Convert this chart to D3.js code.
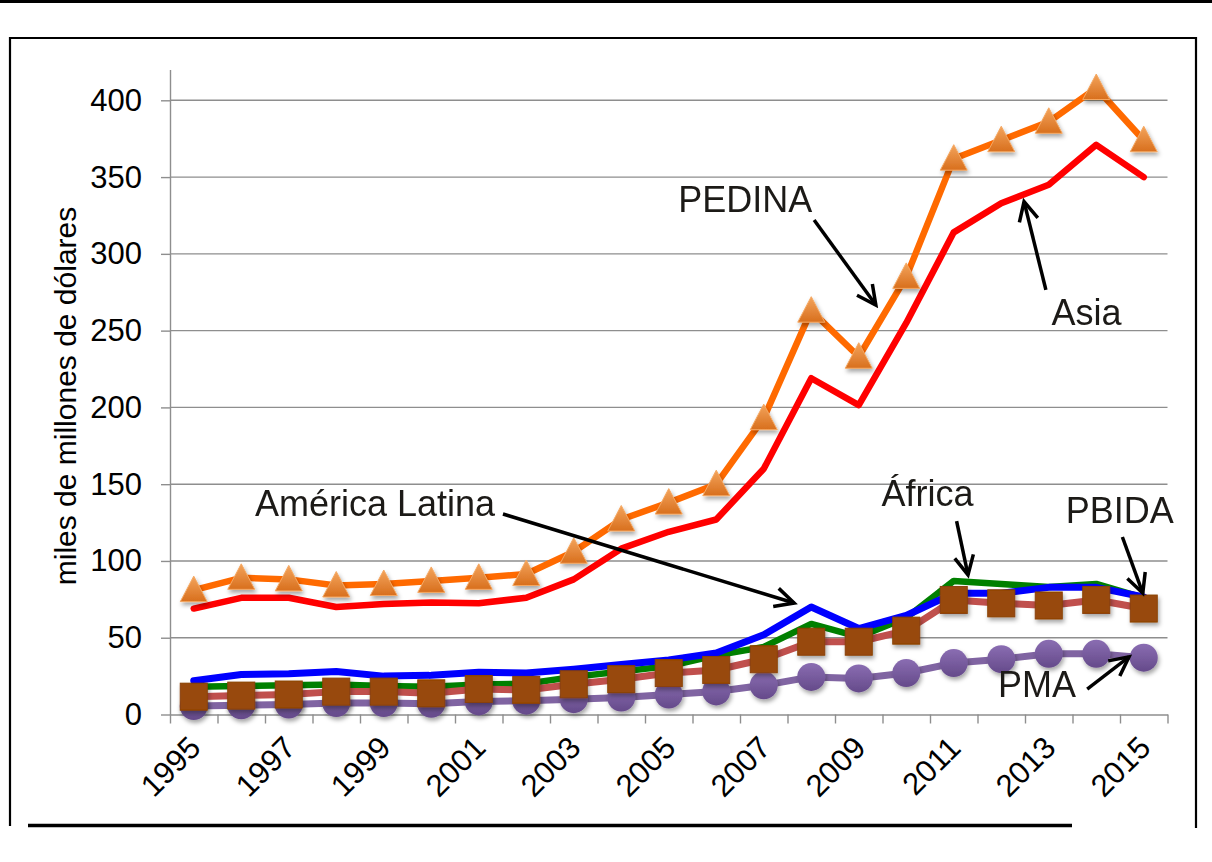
<!DOCTYPE html>
<html>
<head>
<meta charset="utf-8">
<script src="https://cdn.jsdelivr.net/npm/d3@7"></script>
<style>
  body { margin: 0; background: #fff; }
  svg { display: block; font-family: "Liberation Sans", Arial, sans-serif; }
</style>
</head>
<body>
<div id="chart"></div>
<script>
// data (miles de millones de dolares)
var years = [1995, 1996, 1997, 1998, 1999, 2000, 2001, 2002, 2003, 2004, 2005,
             2006, 2007, 2008, 2009, 2010, 2011, 2012, 2013, 2014, 2015];
var yearLabels = [1995, 1997, 1999, 2001, 2003, 2005, 2007, 2009, 2011, 2013, 2015];
var yTicks = [0, 50, 100, 150, 200, 250, 300, 350, 400];

var pedina  = [81, 89, 88, 84, 85, 87, 89, 91.5, 106, 127, 138, 150, 193, 263, 233, 285, 362, 374, 386, 408, 374];
var asia    = [69, 76, 76, 70, 72, 73, 72.5, 76, 88, 108, 119, 127, 160, 219, 201.5, 255, 314, 333, 345, 371, 350];
var america = [22, 26, 26.5, 28, 25, 25.5, 27.5, 27, 29.5, 32.5, 35.5, 40, 52, 70, 56, 64.5, 79, 79, 82.8, 82.8, 76.5];
var africa  = [18, 18.5, 19, 19.5, 18.5, 18, 19.5, 20, 24.5, 28, 31.5, 38.5, 44, 59, 50.5, 63, 87, 85, 83, 85, 76];
var pbida   = [11.6, 12.3, 13, 14.9, 14.9, 13.8, 16.6, 16, 19.7, 23, 27, 29, 36, 47.4, 47.4, 54.6, 74.6, 72.4, 71, 74.6, 69];
var pma     = [5.5, 6, 6.5, 7.5, 7.5, 7, 8.5, 9, 10, 11, 13, 15, 19, 24.5, 23.5, 27, 33.5, 36, 39.5, 39.5, 37];

// annotations, in data units [year, value]
var notes = [
  {text: "PEDINA",         at: [2005.2, 327.4],  from: [2008.06, 322.0], to: [2009.36, 266.7]},
  {text: "Asia",           at: [2013.06, 253.7], from: [2012.94, 276.5], to: [2012.48, 334.0]},
  {text: "América Latina", at: [1996.29, 129.5], from: [2001.51, 130.6], to: [2007.64, 72.6]},
  {text: "África",         at: [2009.48, 136.0], from: [2011.06, 126.0], to: [2011.30, 90.9]},
  {text: "PBIDA",          at: [2013.36, 124.9], from: [2014.55, 115.6], to: [2014.98, 79.1]},
  {text: "PMA",            at: [2011.93, 11.6],  from: [2013.81, 16.6],  to: [2014.69, 37.6]}
];

var W = 1212, H = 862;
var plotLeft = 170, plotRight = 1167.5, plotTop = 69.6, plotBottom = 714.5;

var svg = d3.select("#chart").append("svg")
    .attr("width", W)
    .attr("height", H);

svg.append("rect").attr("width", W).attr("height", H).attr("fill", "#fff");

var defs = svg.append("defs");
var shadow = defs.append("filter").attr("id", "shadow")
    .attr("x", "-50%").attr("y", "-50%").attr("width", "200%").attr("height", "200%");
shadow.append("feDropShadow")
    .attr("dx", 1.5).attr("dy", 3).attr("stdDeviation", 2)
    .attr("flood-color", "#000").attr("flood-opacity", 0.35);

function grad(id, c1, c2) {
  var g = defs.append("linearGradient").attr("id", id)
      .attr("x1", 0).attr("y1", 0).attr("x2", 0).attr("y2", 1);
  g.append("stop").attr("offset", "0%").attr("stop-color", c1);
  g.append("stop").attr("offset", "100%").attr("stop-color", c2);
}
grad("gTri", "#f3a45c", "#d86f1d");
grad("gCirc", "#8a6db2", "#654a8a");

defs.append("marker").attr("id", "arrow")
    .attr("markerUnits", "userSpaceOnUse")
    .attr("viewBox", "-22 -12 26 24")
    .attr("markerWidth", 26).attr("markerHeight", 24)
    .attr("refX", 0).attr("refY", 0)
    .attr("orient", "auto")
  .append("path")
    .attr("d", "M-19,-9.5L0,0L-19,9.5")
    .attr("fill", "none").attr("stroke", "#000").attr("stroke-width", 3.5);

// frame
svg.append("rect").attr("x", 0).attr("y", 0).attr("width", W).attr("height", 3).attr("fill", "#000");
svg.append("path")
    .attr("d", "M10,826V38H1196V828")
    .attr("fill", "none").attr("stroke", "#000").attr("stroke-width", 2.2);
svg.append("line")
    .attr("x1", 28).attr("x2", 1072).attr("y1", 825.5).attr("y2", 825.5)
    .attr("stroke", "#000").attr("stroke-width", 3.5);

// scales
var x = d3.scaleBand().domain(years).range([plotLeft, plotRight]).padding(0);
var xEdge = d3.scaleLinear().domain([0, years.length]).range([plotLeft, plotRight]);
var xYear = d3.scaleLinear()
    .domain([years[0], years[years.length - 1]])
    .range([x(years[0]) + x.bandwidth() / 2, x(years[years.length - 1]) + x.bandwidth() / 2]);
var y = d3.scaleLinear().domain([0, 420]).range([plotBottom, plotTop]);

function cx(d, i) { return x(years[i]) + x.bandwidth() / 2; }

// gridlines
svg.append("g").selectAll("line")
    .data(yTicks.filter(function(d) { return d > 0; }))
    .enter().append("line")
    .attr("x1", plotLeft).attr("x2", plotRight)
    .attr("y1", function(d) { return y(d); })
    .attr("y2", function(d) { return y(d); })
    .attr("stroke", "#8e8e8e").attr("stroke-width", 1.4);

// y axis
var yAxis = svg.append("g")
    .attr("transform", "translate(" + plotLeft + ",0)")
    .call(d3.axisLeft(y).tickValues(yTicks).tickSize(9).tickPadding(19).tickSizeOuter(0));
yAxis.select(".domain").attr("stroke", "#8e8e8e").attr("stroke-width", 1.4);
yAxis.selectAll(".tick line").attr("stroke", "#8e8e8e").attr("stroke-width", 1.4);
yAxis.selectAll(".tick text")
    .attr("font-size", 31).attr("fill", "#000")
    .style("font-family", "'Liberation Sans', Arial, sans-serif");

// x axis (ticks at category edges)
var xAxis = svg.append("g")
    .attr("transform", "translate(0," + plotBottom + ")")
    .call(d3.axisBottom(xEdge).tickValues(d3.range(0, years.length + 1)).tickSize(9)
          .tickFormat("").tickSizeOuter(0));
xAxis.select(".domain").attr("stroke", "#8e8e8e").attr("stroke-width", 1.4);
xAxis.selectAll(".tick line").attr("stroke", "#8e8e8e").attr("stroke-width", 1.4);

svg.append("g").selectAll("text")
    .data(yearLabels)
    .enter().append("text")
    .attr("transform", function(d) {
      return "translate(" + (x(d) + x.bandwidth() / 2 + 1) + ",742) rotate(-45)";
    })
    .attr("text-anchor", "end")
    .attr("dy", "0.35em")
    .attr("font-size", 31)
    .attr("fill", "#000")
    .text(function(d) { return d; });

// y title
svg.append("text")
    .attr("transform", "translate(76,396) rotate(-90)")
    .attr("text-anchor", "middle")
    .attr("font-size", 30)
    .attr("fill", "#000")
    .text("miles de millones de dólares");

var line = d3.line()
    .x(cx)
    .y(function(d) { return y(d); });

function drawLine(values, color, w) {
  svg.append("path")
      .datum(values)
      .attr("d", line)
      .attr("fill", "none")
      .attr("stroke", color)
      .attr("stroke-width", w)
      .attr("stroke-linejoin", "round")
      .attr("stroke-linecap", "round");
}

// series
drawLine(asia, "#ff0000", 6.5);
drawLine(pedina, "#ff6a00", 6.5);
svg.append("g").attr("filter", "url(#shadow)").selectAll("path")
    .data(pedina)
    .enter().append("path")
    .attr("transform", function(d, i) { return "translate(" + cx(d, i) + "," + y(d) + ")"; })
    .attr("d", "M0,-14L13.5,11.5L-13.5,11.5Z")
    .attr("fill", "url(#gTri)")
    .attr("stroke", "#f5a862").attr("stroke-width", 1);

drawLine(pma, "#8064a2", 7);
svg.append("g").attr("filter", "url(#shadow)").selectAll("circle")
    .data(pma)
    .enter().append("circle")
    .attr("cx", cx)
    .attr("cy", function(d) { return y(d); })
    .attr("r", 14)
    .attr("fill", "url(#gCirc)");

drawLine(africa, "#008000", 6.5);
drawLine(america, "#0000ff", 7);
drawLine(pbida, "#c0504d", 7);
svg.append("g").attr("filter", "url(#shadow)").selectAll("rect")
    .data(pbida)
    .enter().append("rect")
    .attr("x", function(d, i) { return cx(d, i) - 13.5; })
    .attr("y", function(d) { return y(d) - 13.5; })
    .attr("width", 27).attr("height", 27)
    .attr("fill", "#984807")
    .attr("stroke", "#8a4108").attr("stroke-width", 1);

// annotations
var ann = svg.append("g");
ann.selectAll("line")
    .data(notes)
    .enter().append("line")
    .attr("x1", function(d) { return xYear(d.from[0]); })
    .attr("y1", function(d) { return y(d.from[1]); })
    .attr("x2", function(d) { return xYear(d.to[0]); })
    .attr("y2", function(d) { return y(d.to[1]); })
    .attr("stroke", "#000").attr("stroke-width", 3.5)
    .attr("marker-end", "url(#arrow)");
ann.selectAll("text")
    .data(notes)
    .enter().append("text")
    .attr("x", function(d) { return xYear(d.at[0]); })
    .attr("y", function(d) { return y(d.at[1]); })
    .attr("font-size", 36)
    .attr("fill", "#1c1a17")
    .text(function(d) { return d.text; });
</script>
</body>
</html>
